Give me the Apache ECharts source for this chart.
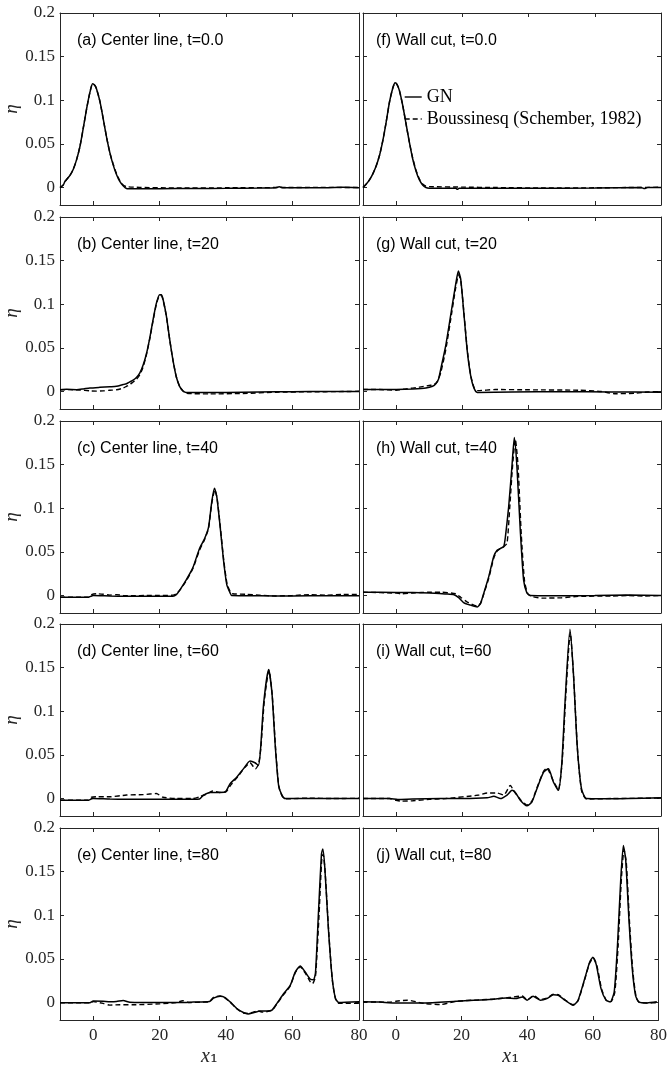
<!DOCTYPE html>
<html>
<head>
<meta charset="utf-8">
<script src="https://cdn.jsdelivr.net/npm/echarts@6/dist/echarts.min.js"></script>
<style>
  html, body { margin: 0; padding: 0; background: #fff; }
  #chart { width: 670px; height: 1068px; }
</style>
</head>
<body>
<div id="chart"></div>
<script>
// tick values and labels
const xTicks = [0, 20, 40, 60, 80]
const yTicks = [0, 0.05, 0.1, 0.15, 0.2]

const panelTitles = [
  '(a) Center line, t=0.0', '(b) Center line, t=20', '(c) Center line, t=40',
  '(d) Center line, t=60', '(e) Center line, t=80',
  '(f) Wall cut, t=0.0', '(g) Wall cut, t=20', '(h) Wall cut, t=40',
  '(i) Wall cut, t=60', '(j) Wall cut, t=80',
]

// [x1, eta], GN (solid) and Boussinesq (dashed)
const gnA = [[-10,0],[-9,0.003],[-8.5,0.007],[-7,0.014],[-6,0.021],[-5,0.032],[-4,0.047],[-3,0.068],[-2,0.09],[-1,0.109],[-0.2,0.119],[0.5,0.117],[1,0.113],[2,0.099],[3,0.079],[4,0.058],[5,0.04],[6,0.026],[7,0.015],[8,0.007],[9,0.002],[10,-0.001],[12,-0.0015],[20,-0.0013],[30,-0.0011],[40,-0.0009],[50,-0.0005],[55,-0.0002],[56,0.0008],[57,-0.0002],[70,-0.0002],[75,0.0002],[80,-0.0003]]
const bqA = [[-10,0],[-9,0.003],[-8.5,0.007],[-7,0.014],[-6,0.021],[-5,0.032],[-4,0.047],[-3,0.068],[-2,0.09],[-1,0.109],[-0.2,0.119],[0.5,0.117],[1,0.113],[2,0.099],[3,0.079],[4,0.058],[5,0.04],[6,0.027],[7,0.016],[8,0.008],[9,0.003],[10,0.001],[14,0.0002],[25,-0.0005],[40,-0.0003],[55,0],[70,0.0002],[80,0]]

const gnB = [[-10,0.002],[-8,0.0025],[-5,0.0022],[-3,0.003],[-1,0.004],[2,0.0048],[5,0.0055],[7,0.006],[9,0.008],[10,0.009],[11,0.011],[12,0.013],[13,0.016],[14,0.021],[15,0.03],[16,0.043],[17,0.061],[18,0.082],[19,0.101],[20,0.111],[20.5,0.111],[21,0.106],[22,0.087],[23,0.06],[24,0.036],[25,0.017],[26,0.006],[27,0.001],[28,-0.0012],[35,-0.0012],[45,-0.0008],[55,-0.0003],[65,0],[80,0]]
const bqB = [[-10,0.002],[-7,0.0022],[-4,0.0018],[-1,0.0008],[1,0.0005],[3,0.0008],[5,0.0015],[7,0.002],[9,0.004],[10,0.006],[11,0.008],[12,0.011],[13,0.014],[14,0.019],[15,0.028],[16,0.042],[17,0.06],[18,0.081],[19,0.1],[20,0.11],[20.5,0.11],[21,0.105],[22,0.087],[23,0.06],[24,0.036],[25,0.017],[26,0.006],[27,0.0005],[28,-0.002],[35,-0.0027],[45,-0.0022],[55,-0.0008],[65,-0.0003],[75,0],[80,0.0003]]

const gnC = [[-10,-0.002],[-1.5,-0.002],[-0.5,-0.0005],[0,0],[5,-0.0005],[10,-0.0008],[20,-0.0008],[24,-0.0008],[25,0.001],[26,0.006],[28,0.018],[30,0.032],[32,0.054],[33.5,0.065],[34.7,0.078],[35.7,0.108],[36.5,0.123],[37.2,0.113],[38.2,0.079],[39.2,0.041],[40.2,0.0125],[41.2,0.003],[41.7,0],[50,-0.0003],[60,-0.0005],[70,-0.0002],[80,-0.0002]]
const bqC = [[-10,-0.002],[-1.5,-0.002],[-0.5,0.001],[1,0.002],[3,0.0015],[5,0.0005],[7,0.001],[9,0.0002],[12,-0.0002],[16,0],[20,0],[24,0.0005],[25,0.002],[26,0.006],[28,0.017],[30,0.031],[32,0.052],[33.5,0.064],[34.7,0.077],[35.7,0.106],[36.6,0.121],[37.3,0.111],[38.3,0.077],[39.3,0.04],[40.3,0.013],[41.3,0.004],[42,0.002],[46,0.0015],[50,0.0005],[55,-0.0005],[60,0],[65,0.001],[70,0.0005],[75,0.0012],[80,0.0012]]

const gnD = [[-10,-0.002],[-1.5,-0.002],[-0.5,-0.0003],[0,0],[5,-0.0006],[10,-0.0008],[20,-0.0008],[30,-0.0008],[32,-0.0005],[33.2,0.004],[35.2,0.007],[37.2,0.007],[39.7,0.0075],[41.2,0.017],[43.2,0.0245],[45.2,0.034],[47.2,0.043],[48.7,0.041],[49.7,0.038],[50.3,0.053],[51.3,0.109],[52.8,0.148],[53.8,0.121],[54.8,0.06],[55.8,0.015],[56.8,0.004],[57.8,0],[65,0],[80,0]]
const bqD = [[-10,-0.002],[-1.5,-0.002],[-0.5,0.0015],[1,0.002],[5,0.002],[10,0.004],[15,0.0045],[19,0.0057],[21,0.0015],[25,0],[30,0],[32,0.002],[34,0.005],[36,0.0087],[38,0.007],[40,0.008],[41.5,0.016],[43.5,0.025],[45.5,0.035],[47.2,0.041],[48.8,0.034],[49.8,0.04],[50.5,0.06],[51.5,0.112],[52.9,0.147],[53.9,0.118],[54.9,0.057],[55.9,0.013],[57,0.002],[58,-0.0003],[65,0.0005],[72,0],[80,0.0003]]

const gnE = [[-10,-0.0003],[-1,-0.0003],[0,0.0018],[3,0.0015],[5,0.001],[7,0.0012],[9,0.0023],[11,0.0003],[15,0],[25,0],[30,0.0005],[35,0.0012],[36.2,0.005],[38.2,0.0072],[39.7,0.0057],[41.2,0.0008],[43.2,-0.0068],[45.2,-0.0114],[46.7,-0.013],[48.2,-0.0117],[50.3,-0.0098],[52.3,-0.0098],[53.8,-0.0087],[55.3,-0.001],[57.3,0.01],[59.3,0.0197],[60.8,0.0348],[62.3,0.042],[63.8,0.035],[65.3,0.027],[66.3,0.026],[66.9,0.034],[67.8,0.103],[68.7,0.17],[69.1,0.176],[69.7,0.155],[70.8,0.084],[71.9,0.029],[72.9,0.005],[73.9,0],[80,0.0008]]
const bqE = [[-10,-0.0003],[-1,-0.0003],[0,0.001],[3,-0.001],[5,-0.003],[8,-0.0025],[12,-0.0025],[20,-0.0015],[25,0],[27,0.002],[29,0],[33,0.0005],[35,0.001],[36.2,0.006],[38.2,0.0075],[39.7,0.005],[41.2,0.0005],[43.2,-0.007],[45.2,-0.012],[46.7,-0.0125],[48.2,-0.011],[49.5,-0.0095],[51,-0.011],[53.8,-0.009],[55.3,-0.0015],[57.3,0.009],[59.3,0.019],[60.8,0.034],[62.3,0.041],[63.8,0.034],[65.3,0.024],[66,0.0216],[66.9,0.03],[67.9,0.095],[68.8,0.165],[69.2,0.17],[69.8,0.15],[70.9,0.08],[72,0.025],[73,0.003],[74,-0.001],[80,-0.001]]

const gnF = [[-10,0],[-9,0.004],[-8,0.009],[-7,0.016],[-6,0.025],[-5,0.037],[-4,0.054],[-3,0.075],[-2,0.098],[-1,0.114],[-0.3,0.12],[0.3,0.118],[1,0.111],[2,0.094],[3,0.073],[4,0.052],[5,0.033],[6,0.019],[7,0.009],[8,0.003],[9,0],[10,-0.0008],[18,-0.0008],[18.5,-0.002],[19,-0.0008],[40,-0.0008],[60,-0.0005],[74,0],[75,-0.0012],[76,0],[80,0]]
const bqF = [[-10,0],[-9,0.004],[-8,0.009],[-7,0.016],[-6,0.025],[-5,0.037],[-4,0.054],[-3,0.075],[-2,0.098],[-1,0.114],[-0.3,0.12],[0.3,0.118],[1,0.111],[2,0.094],[3,0.073],[4,0.052],[5,0.034],[6,0.02],[7,0.01],[8,0.004],[9,0.0015],[10,0.001],[20,0.0005],[30,0],[45,-0.0005],[60,-0.0003],[70,0],[80,0.0003]]

const gnG = [[-10,0.0023],[-5,0.0023],[0,0.0024],[5,0.003],[9,0.004],[11,0.006],[12,0.009],[12.8,0.014],[13.5,0.026],[15,0.053],[16.5,0.088],[18,0.123],[18.8,0.138],[19.5,0.129],[20.5,0.088],[21.5,0.046],[22.5,0.0185],[23.5,0.004],[24.5,-0.001],[35,-0.0004],[50,-0.0002],[65,-0.0005],[80,-0.0008]]
const bqG = [[-10,0.0023],[-5,0.0023],[0,0.0015],[3,0.003],[7,0.005],[10,0.007],[11.5,0.008],[12.5,0.012],[13.5,0.022],[15,0.048],[16.5,0.083],[18,0.119],[18.9,0.134],[19.6,0.125],[20.6,0.085],[21.6,0.044],[22.6,0.017],[23.6,0.004],[24.5,0.001],[30,0.0023],[40,0.002],[55,0.0015],[62,0],[66,-0.0025],[72,-0.002],[76,-0.0005],[80,0]]

const gnH = [[-10,0.0038],[0,0.0036],[10,0.003],[15,0.0018],[17.5,0.001],[19,-0.0027],[20.5,-0.0083],[22.5,-0.011],[24.5,-0.013],[25.5,-0.009],[26.5,0.003],[28,0.022],[29.5,0.045],[30.5,0.052],[31.5,0.054],[32.5,0.056],[33,0.067],[34,0.102],[35,0.149],[35.7,0.181],[36.5,0.147],[37.5,0.075],[38.5,0.018],[39.5,0.003],[40.5,0],[50,-0.0003],[60,0],[70,0.0005],[80,0]]
const bqH = [[-10,0.0038],[0,0.0028],[1.5,0.002],[5,0.003],[10,0.0038],[13.5,0.0038],[18,0.002],[19.5,-0.002],[21.5,-0.0075],[24.5,-0.012],[25.5,-0.009],[26.5,0.002],[28,0.02],[29.5,0.043],[30.5,0.051],[31.5,0.054],[32.5,0.056],[33.5,0.06],[34.3,0.1],[35.2,0.15],[36,0.179],[36.8,0.15],[37.8,0.07],[38.8,0.016],[39.8,0.002],[41,-0.001],[44,-0.003],[50,-0.0025],[55,-0.001],[65,-0.0005],[70,0],[75,-0.0005],[80,0]]

const gnI = [[-10,0],[-2,0],[0.5,-0.001],[5,-0.0005],[13.5,0],[20,0],[27.5,0.0008],[29.5,0.0026],[31.5,0],[33.5,0.004],[35,0.0094],[36,0.007],[37.5,-0.002],[39.5,-0.0083],[41,-0.004],[42.5,0.011],[44.5,0.03],[46,0.034],[47.5,0.019],[49,0.0094],[50,0.038],[51,0.109],[52.5,0.194],[53.5,0.147],[54.7,0.06],[56,0.011],[57.5,0],[65,-0.0003],[80,0.0008]]
const bqI = [[-10,0],[-2,0],[0,-0.002],[1.5,-0.003],[5,-0.0025],[10,-0.001],[15,0],[25,0.004],[27.5,0.0064],[30.5,0.0064],[32.5,0.004],[34.5,0.015],[35.5,0.009],[37.5,-0.001],[39.5,-0.0075],[41,-0.003],[42.5,0.012],[44.5,0.031],[45.5,0.035],[47.5,0.02],[49,0.0105],[50.2,0.045],[51.2,0.115],[52.6,0.19],[53.6,0.14],[54.8,0.055],[56,0.009],[57.5,-0.0005],[65,0],[80,0.0005]]

const gnJ = [[-10,0.0008],[-5,0.0005],[-0.5,-0.0004],[8.5,-0.0004],[18.5,0.0015],[28.5,0.0034],[33.5,0.0053],[36.5,0.0045],[38.5,0.0064],[40,0.0027],[41.8,0.0072],[44,0.0027],[46,0.0045],[48,0.009],[49.5,0.0083],[51.5,0.0027],[54,-0.003],[55.5,0.0027],[57.5,0.027],[59,0.046],[60,0.052],[61,0.044],[62.5,0.016],[64,0.0027],[65.3,0.0008],[66.5,0.012],[67.5,0.065],[68.5,0.141],[69.3,0.18],[70,0.164],[71,0.095],[72,0.039],[73,0.0083],[74,0.0008],[76.5,-0.0004],[79.5,0.0008]]
const bqJ = [[-10,0.0008],[-2,0.0005],[0,0.0015],[3.5,0.0027],[8.5,-0.001],[13.5,-0.0023],[18.5,0.0015],[25,0.003],[30,0.004],[35,0.006],[38.5,0.0075],[40,0.003],[42,0.008],[44,0.0035],[46,0.005],[48,0.0095],[49.5,0.009],[51.5,0.003],[54,-0.0025],[55.5,0.002],[57.5,0.026],[59,0.045],[60.2,0.051],[61.2,0.043],[62.7,0.015],[64.2,0.002],[65.5,0.001],[66.7,0.012],[67.7,0.065],[68.7,0.142],[69.5,0.175],[70.2,0.16],[71.2,0.09],[72.2,0.035],[73.2,0.006],[74.2,0],[76.5,-0.0005],[80,-0.0003]]

const gnSeries = [gnA, gnB, gnC, gnD, gnE, gnF, gnG, gnH, gnI, gnJ]
const bqSeries = [bqA, bqB, bqC, bqD, bqE, bqF, bqG, bqH, bqI, bqJ]

const GN = 'GN'
const BQ = 'Boussinesq (Schember, 1982)'

// layout
const colLeft = [60, 363]
const colWidth = [299, 298]
const rowTop = [13, 217, 421, 624, 828]
const rowHeight = 192
const axisColor = '#262626'
const serif = 'Liberation Serif'

const grid = []
const xAxis = []
const yAxis = []
const series = []
const title = []

panelTitles.forEach((text, i) => {
  const col = i < 5 ? 0 : 1
  const row = i % 5
  const isBottom = row === 4
  const isLeft = col === 0
  grid.push({left: colLeft[col], top: rowTop[row], width: colWidth[col], height: rowHeight})

  const line = {show: true, onZero: false, lineStyle: {color: axisColor, width: 1}}
  const tickX = {show: true, inside: true, length: 4, customValues: xTicks, lineStyle: {color: axisColor}}
  const tickY = {show: true, inside: true, length: 4, customValues: yTicks, lineStyle: {color: axisColor}}
  const label = {fontFamily: serif, fontSize: 17, color: axisColor}

  xAxis.push({
    type: 'value', gridIndex: i, min: -10, max: 80, position: 'bottom',
    axisLine: line, axisTick: tickX, splitLine: {show: false},
    axisLabel: {show: isBottom, customValues: xTicks, margin: 7, ...label},
    name: isBottom ? '{i|x}{s|₁}' : '', nameLocation: 'middle', nameGap: 27,
    nameTextStyle: {fontFamily: serif, fontSize: 19, color: axisColor,
      rich: {
        i: {fontFamily: serif, fontStyle: 'italic', fontSize: 20, color: axisColor},
        s: {fontFamily: 'DejaVu Serif', fontSize: 20, color: axisColor},
      }},
  })
  xAxis.push({
    type: 'value', gridIndex: i, min: -10, max: 80, position: 'top',
    axisLine: line, axisTick: tickX, splitLine: {show: false}, axisLabel: {show: false},
  })
  yAxis.push({
    type: 'value', gridIndex: i, min: -0.02, max: 0.2, position: 'left',
    axisLine: line, axisTick: tickY, splitLine: {show: false},
    axisLabel: {show: isLeft, customValues: yTicks, margin: 5, ...label},
    name: isLeft ? 'η' : '', nameLocation: 'middle', nameGap: 38, nameRotate: 90,
    nameTextStyle: {fontFamily: serif, fontStyle: 'italic', fontSize: 19, color: axisColor},
  })
  yAxis.push({
    type: 'value', gridIndex: i, min: -0.02, max: 0.2, position: 'right',
    axisLine: line, axisTick: tickY, splitLine: {show: false}, axisLabel: {show: false},
  })

  series.push({
    type: 'line', name: GN, xAxisIndex: 2 * i, yAxisIndex: 2 * i,
    data: gnSeries[i], symbol: 'none', smooth: 0.2, color: '#000',
    lineStyle: {color: '#000', width: 1.5},
  })
  series.push({
    type: 'line', name: BQ, xAxisIndex: 2 * i, yAxisIndex: 2 * i,
    data: bqSeries[i], symbol: 'none', smooth: 0.2, color: '#000',
    lineStyle: {color: '#000', width: 1.4, type: [5, 3]},
  })

  title.push({
    text, left: isLeft ? colLeft[col] + 17 : colLeft[col] + 13, top: rowTop[row] + 20, padding: 0,
    textStyle: {fontFamily: 'Liberation Sans', fontSize: 16, fontWeight: 'normal', color: '#000'},
  })
})

const chart = echarts.init(document.getElementById('chart'), null, {renderer: 'canvas'})
chart.setOption({
  animation: false,
  backgroundColor: '#fff',
  title,
  grid,
  xAxis,
  yAxis,
  series,
  legend: {
    data: [GN, BQ], orient: 'vertical', left: 404, top: 88, padding: 0,
    itemWidth: 17, itemHeight: 10, itemGap: 4, selectedMode: false,
    itemStyle: {opacity: 0},
    lineStyle: {width: 1.4},
    textStyle: {fontFamily: serif, fontSize: 18, color: '#000'},
  },
})
</script>
</body>
</html>
